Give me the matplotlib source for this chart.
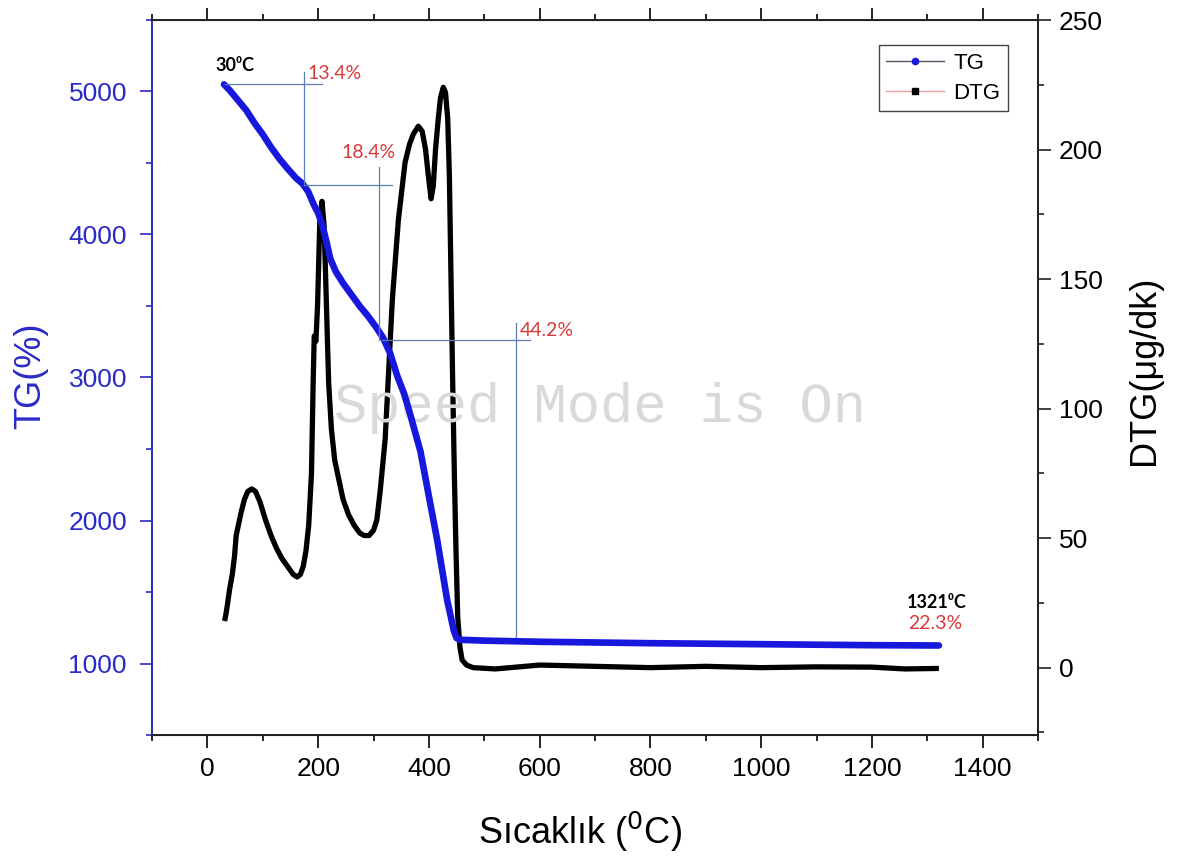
import matplotlib
matplotlib.use('Agg')
import matplotlib.pyplot as plt
from matplotlib.lines import Line2D
from matplotlib.ticker import MultipleLocator

# ---------------- data ----------------
temp_tg = [30, 40, 55, 70, 85, 100, 115, 130, 145, 160, 172, 182, 192, 200, 208, 215, 222,
           232, 245, 260, 275, 290, 305, 317, 330, 343, 355, 365, 375, 385, 400, 415, 433,
           445, 450, 456, 500, 600, 800, 1000, 1200, 1321]
tg = [5050, 5010, 4940, 4870, 4780, 4700, 4610, 4530, 4460, 4395, 4355, 4300, 4210, 4150,
      4060, 3950, 3830, 3740, 3660, 3580, 3500, 3430, 3350, 3280, 3170, 3010, 2890, 2760,
      2620, 2480, 2170, 1864, 1444, 1230, 1178, 1166, 1160, 1152, 1142, 1135, 1128, 1126]

temp_dtg = [31, 33, 36, 40, 45, 49, 52, 56, 61, 67, 73, 80, 87, 95, 105, 115, 125, 135, 145,
            155, 162, 168, 173, 178, 183, 188, 191, 193, 196, 199, 203, 207, 211, 215, 219,
            224, 230, 238, 245, 255, 265, 275, 283, 292, 300, 306, 312, 321, 334, 345, 357,
            365, 372, 381, 388, 394, 399, 404, 408, 412, 417, 421, 426, 430, 434, 437, 440,
            443, 446, 449, 452, 456, 460, 468, 480, 520, 600, 700, 800, 900, 1000, 1100,
            1200, 1260, 1321]
dtg = [18, 20, 24, 30, 36, 43, 51, 55, 60, 65, 68, 69, 68, 64, 57, 51, 46, 42, 39, 36, 35,
       36, 39, 45, 55, 75, 110, 128, 126, 140, 172, 180, 170, 140, 110, 92, 80, 72, 65, 59,
       55, 52, 51, 51, 53, 57, 68, 88, 142, 173, 195, 202, 206, 209, 207, 200, 190, 181,
       186, 200, 212, 220, 224, 222, 212, 190, 150, 110, 75, 45, 20, 8, 3, 1, 0, -0.5, 1,
       0.5, 0, 0.5, 0, 0.3, 0.2, -0.5, -0.3]

# step-construction guide lines (TG axis)
guide_h = [(32, 207, 5052), (174, 333, 4346), (315, 582, 3262)]   # (x0, x1, y)
guide_v = [(174, 5136, 4346), (310, 4472, 3262), (557, 3381, 1185)]  # (x, y0, y1)

pct_labels = ['13.4%', '18.4%', '44.2%', '22.3%']
pct_pos = [(180, 5129), (243, 4570), (564, 3332), (1265, 1283)]
temp_labels = ['30\u2070C', '1321\u2070C']
temp_pos = [(14, 5185), (1263, 1430)]

x_ticks = [0, 200, 400, 600, 800, 1000, 1200, 1400]
tg_ticks = [1000, 2000, 3000, 4000, 5000]
dtg_ticks = [0, 50, 100, 150, 200, 250]

# ---------------- styling ----------------
plt.rcParams['font.family'] = ['Liberation Sans', 'DejaVu Sans']
BLUE = '#1818dc'
AXBLUE = '#2a2ac8'
RED = '#d83a3a'
GUIDE = '#5a7fb6'

W, H = 1182, 857
fig = plt.figure(figsize=(W / 100, H / 100), dpi=100)
L, R, T, B = 152, 1038, 20, 735
ax = fig.add_axes([L / W, 1 - B / H, (R - L) / W, (B - T) / H])
ax2 = ax.twinx()
ax.set_zorder(ax2.get_zorder() + 1)
ax.patch.set_visible(False)

# watermark
ax.text(0.506, 0.457, 'Speed Mode is On', transform=ax.transAxes, ha='center',
        va='center', fontsize=40, family=['Liberation Mono', 'DejaVu Sans Mono'],
        color='#d9d9d9', zorder=0)

# curves
ax2.plot(temp_dtg, dtg, color='black', lw=3.8, solid_capstyle='butt',
         solid_joinstyle='round', zorder=3)
ax.plot(temp_tg, tg, color=BLUE, lw=4.8, solid_capstyle='round',
        solid_joinstyle='round', zorder=4)

# guide lines
for x0, x1, y in guide_h:
    ax.plot([x0, x1], [y, y], color=GUIDE, lw=0.9, zorder=5)
for x, y0, y1 in guide_v:
    ax.plot([x, x], [y0, y1], color=GUIDE, lw=0.9, zorder=5)

afont = ['Lato', 'DejaVu Sans']
for s, (x, y) in zip(pct_labels, pct_pos):
    ax.text(x, y, s, color=RED, fontsize=14, family=afont, ha='left', va='center', zorder=6)
for s, (x, y) in zip(temp_labels, temp_pos):
    ax.text(x, y, s, color='black', fontsize=13, family=afont, fontweight='bold',
            ha='left', va='center', zorder=6)

# axes limits & ticks
ax.set_xlim(-100, 1500)
ax.set_ylim(500, 5500)
ax2.set_ylim(-26, 250)
ax.set_xticks(x_ticks)
ax.xaxis.set_minor_locator(MultipleLocator(100))
ax.set_yticks(tg_ticks)
ax.yaxis.set_minor_locator(MultipleLocator(500))
ax2.set_yticks(dtg_ticks)
ax2.yaxis.set_minor_locator(MultipleLocator(25))

ax.tick_params(axis='x', which='both', direction='out', top=True, labeltop=False,
               colors='black', labelsize=19, width=1.2, pad=7)
ax.tick_params(axis='x', which='major', length=9)
ax.tick_params(axis='x', which='minor', length=4.5)
ax.tick_params(axis='y', which='both', direction='out', colors=AXBLUE, labelcolor=AXBLUE,
               labelsize=19, width=1.2, pad=9)
ax.tick_params(axis='y', which='major', length=9)
ax.tick_params(axis='y', which='minor', length=4)
ax2.tick_params(axis='y', which='both', direction='out', colors='#222222',
                labelcolor='black', labelsize=19, width=1.2, pad=6)
ax2.tick_params(axis='y', which='major', length=9)
ax2.tick_params(axis='y', which='minor', length=4.5)

for sp in ['top', 'bottom', 'right']:
    ax.spines[sp].set_color('#222222')
    ax.spines[sp].set_linewidth(1.4)
ax.spines['left'].set_color(AXBLUE)
ax.spines['left'].set_linewidth(1.4)
ax2.spines['left'].set_visible(False)
ax2.spines['right'].set_color('#222222')
ax2.spines['right'].set_linewidth(1.4)

# labels
ax.set_xlabel('Sıcaklık ($^0$C)', fontsize=26)
ax.xaxis.set_label_coords(0.483, -0.105)
ax.set_ylabel('TG(%)', fontsize=26, color=AXBLUE)
ax.yaxis.set_label_coords(-0.117, 0.503)
ax2.set_ylabel('DTG(μg/dk)', fontsize=26, color='black')
ax2.yaxis.set_label_coords(1.100, 0.51)

# legend
handles = [
    Line2D([], [], color='#555566', lw=1, marker='o', markersize=4.5,
           markerfacecolor=BLUE, markeredgecolor=BLUE),
    Line2D([], [], color='#e8a0a0', lw=1, marker='s', markersize=4.5,
           markerfacecolor='black', markeredgecolor='black'),
]
leg = ax.legend(handles, ['TG', 'DTG'], loc='upper right', bbox_to_anchor=(0.966, 0.965),
                borderaxespad=0, fontsize=16, frameon=True, fancybox=False,
                edgecolor='#444444', framealpha=1, handlelength=2.6, borderpad=0.35,
                labelspacing=0.4, handletextpad=0.4)
leg.get_frame().set_linewidth(1.0)
leg.set_zorder(10)

fig.savefig('out.png', dpi=100)
